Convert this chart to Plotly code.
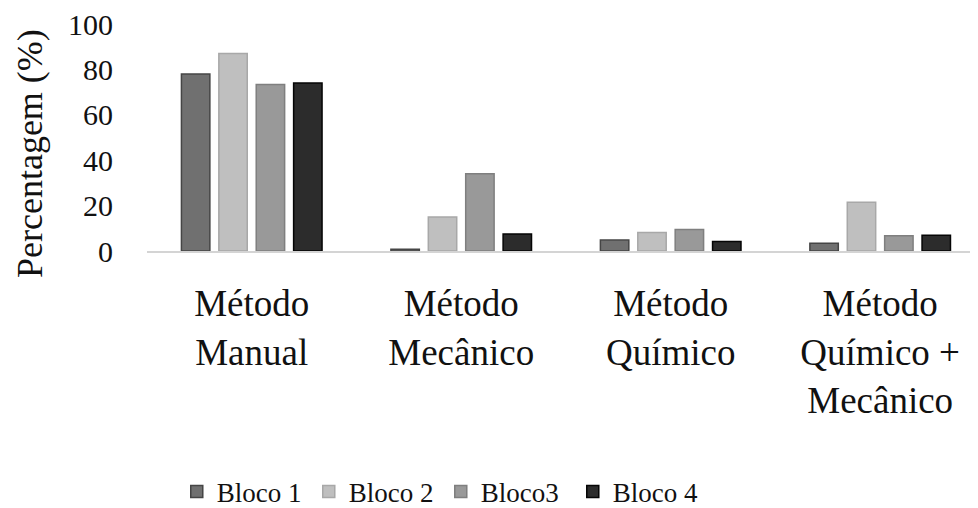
import plotly.graph_objects as go

categories = ["Método<br>Manual", "Método<br>Mecânico", "Método<br>Químico", "Método<br>Químico +<br>Mecânico"]
series_names = ["Bloco 1", "Bloco 2", "Bloco3", "Bloco 4"]
bloco1 = [78, 0.8, 4.8, 3.4]
bloco2 = [87, 15, 8.2, 21.5]
bloco3 = [73.3, 34, 9.5, 6.7]
bloco4 = [74, 7.5, 4.2, 6.9]
y_ticks = [0, 20, 40, 60, 80, 100]

fills = ["#707070", "#bfbfbf", "#999999", "#2c2c2c"]
lines = ["#454545", "#a8a8a8", "#7f7f7f", "#050505"]

fig = go.Figure()
for name, vals, fc, lc in zip(series_names, [bloco1, bloco2, bloco3, bloco4], fills, lines):
    fig.add_trace(go.Bar(
        x=categories, y=vals, name=name,
        marker=dict(color=fc, line=dict(color=lc, width=1.5)),
    ))

FONT = "Liberation Serif"
# the page adds an 8px body margin, so the figure is 8px smaller in each direction
fig.update_layout(
    width=970, height=500,
    margin=dict(l=139, r=0, t=16, b=257, autoexpand=False),
    paper_bgcolor="white", plot_bgcolor="white",
    barmode="group", bargap=0.286, bargroupgap=0.24,
    font=dict(family=FONT, color="#111111"),
    showlegend=True,
    legend=dict(
        orientation="h", xref="container", x=0.174, xanchor="left",
        yref="container", y=0.032, yanchor="middle",
        font=dict(size=27, family=FONT, color="#111111"),
        entrywidth=87, entrywidthmode="pixels",
        itemclick=False, traceorder="normal",
    ),
    annotations=[dict(
        text="Percentagem (%)", textangle=-90, showarrow=False,
        xref="paper", x=-0.14, xanchor="center",
        yref="paper", y=0.43, yanchor="middle",
        font=dict(size=36, family=FONT, color="#111111"),
    )],
)
fig.update_xaxes(
    range=[-0.5, 3.467], showgrid=False, zeroline=False,
    showline=True, linecolor="#d4d4d4", linewidth=2,
    ticks="", ticklabelstandoff=19,
    tickfont=dict(size=37, family=FONT, color="#111111"),
)
fig.update_yaxes(
    range=[0, 100], tickvals=y_ticks, showgrid=False, zeroline=False,
    showline=False, ticks="", ticklabelstandoff=33, ticklabeloverflow="allow",
    tickfont=dict(size=30, family=FONT, color="#111111"),
)

fig.write_html("out.html")
